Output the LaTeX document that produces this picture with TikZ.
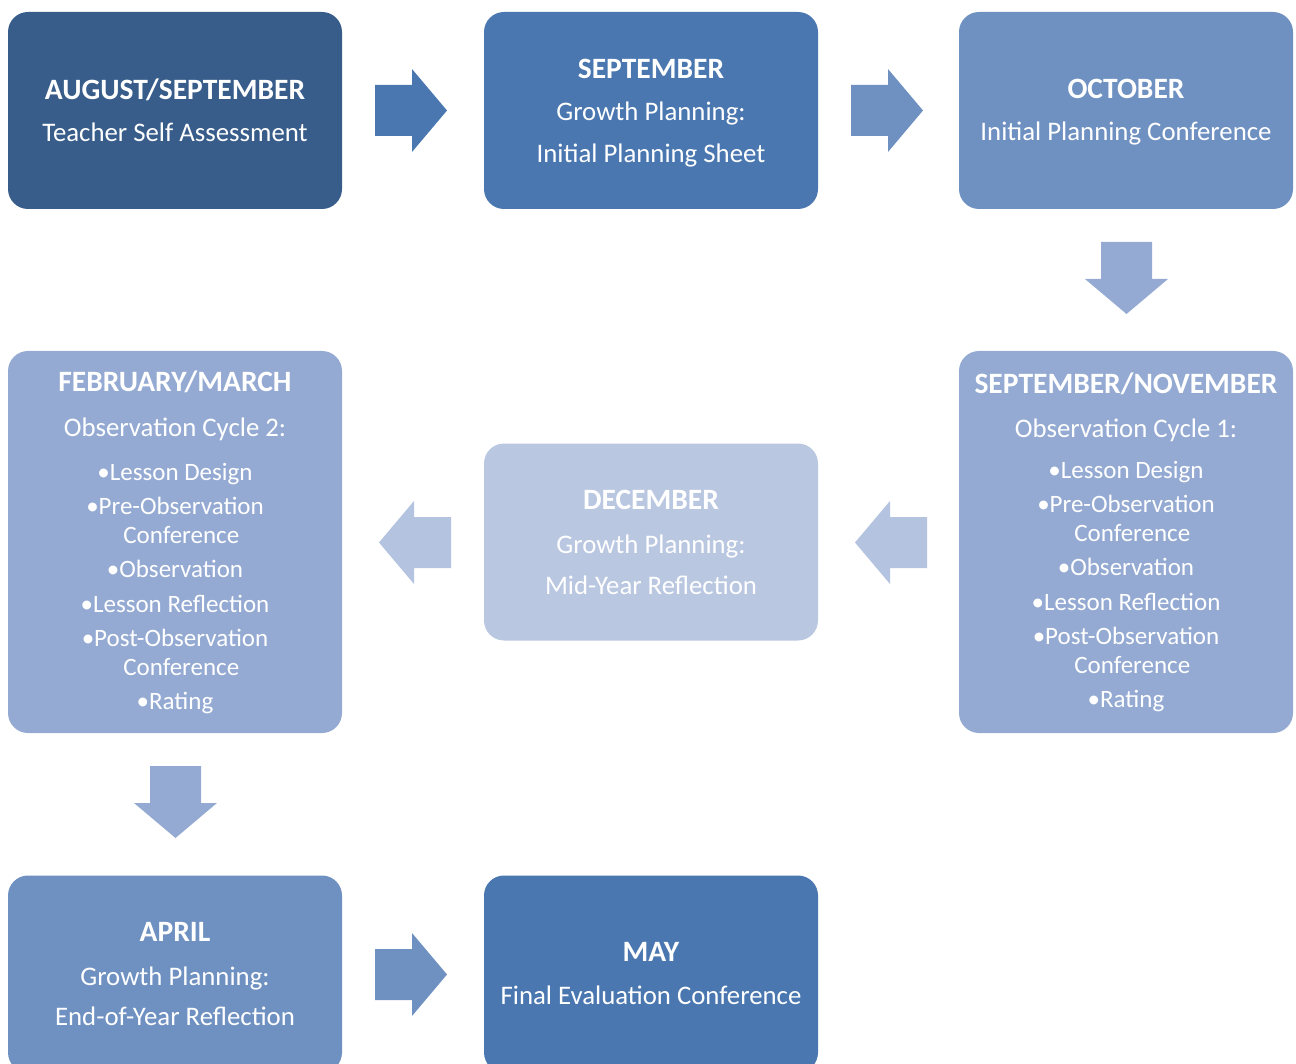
\documentclass[tikz,border=0pt]{standalone}
\usepackage{fontspec}
\setmainfont{Carlito}
\definecolor{cA}{HTML}{385D8A}
\definecolor{cB}{HTML}{4A77B0}
\definecolor{cC}{HTML}{6F91C2}
\definecolor{cD}{HTML}{94AAD2}
\definecolor{cE}{HTML}{B9C7E1}
\definecolor{cF}{HTML}{B4C3DF}
\newcommand{\boxtitle}[1]{{\fontsize{29.5}{29}\selectfont\bfseries #1}}
\newcommand{\bl}[1]{{\fontsize{25}{29}\selectfont #1}}
\begin{document}
\begin{tikzpicture}[x=1pt,y=-1pt,
  box/.style={rounded corners=20pt, inner sep=0pt, align=center, text=white,
    minimum width=334pt, minimum height=197pt, font=\fontsize{26.8}{29}\selectfont},
  tallbox/.style={box, minimum height=382pt},
  pics/blockarrow/.style={code={
    \fill[#1] (0,-25.5) -- (37,-25.5) -- (37,-41.5) -- (72,0) -- (37,41.5) -- (37,25.5) -- (0,25.5) -- cycle;}}
]
\useasboundingbox (0,0) rectangle (1296,1064);

\node[box, fill=cA] (b1) at (175,110.5) {\boxtitle{AUGUST/SEPTEMBER}\\[13pt]Teacher Self Assessment};
\node[box, fill=cB] (b2) at (651,110.5) {\rule{0pt}{25pt}\boxtitle{SEPTEMBER}\\[13pt]Growth Planning:\\[13pt]Initial Planning Sheet};
\node[box, fill=cC] (b3) at (1126,110.5) {\rule{0pt}{23pt}\boxtitle{OCTOBER}\\[13pt]Initial Planning Conference};

\node[tallbox, fill=cD] (b4) at (1126,542) {\boxtitle{SEPTEMBER/NOVEMBER}\\[15pt]
Observation Cycle 1:\\[12pt]
\bl{•Lesson Design}\\[5pt]
\bl{•Pre-Observation}\\
\bl{\phantom{•}Conference}\\[5pt]
\bl{•Observation}\\[6pt]
\bl{•Lesson Reflection}\\[5pt]
\bl{•Post-Observation}\\
\bl{\phantom{•}Conference}\\[5pt]
\bl{•Rating}};

\node[box, fill=cE] (b5) at (651,542) {\boxtitle{DECEMBER}\\[15pt]Growth Planning:\\[12pt]Mid-Year Reflection};

\node[tallbox, fill=cD] (b6) at (175,542) {\boxtitle{FEBRUARY/MARCH}\\[16pt]
Observation Cycle 2:\\[15pt]
\bl{•Lesson Design}\\[5pt]
\bl{•Pre-Observation}\\
\bl{\phantom{•}Conference}\\[5pt]
\bl{•Observation}\\[6pt]
\bl{•Lesson Reflection}\\[5pt]
\bl{•Post-Observation}\\
\bl{\phantom{•}Conference}\\[5pt]
\bl{•Rating}};

\node[box, fill=cC] (b7) at (175,974) {\boxtitle{APRIL}\\[15pt]Growth Planning:\\[11pt]End-of-Year Reflection};
\node[box, fill=cB] (b8) at (651,974) {\boxtitle{MAY}\\[14pt]Final Evaluation Conference};

\pic (a1) at (375,110.5) {blockarrow=cB};
\pic (a2) at (851,110.5) {blockarrow=cC};
\pic[rotate=-90] (a3) at (1126.5,242) {blockarrow=cD};
\pic[rotate=180] (a4) at (927,542.5) {blockarrow=cF};
\pic[rotate=180] (a5) at (451,542.5) {blockarrow=cF};
\pic[rotate=-90] (a6) at (175.5,766) {blockarrow=cD};
\pic (a7) at (375,974.5) {blockarrow=cC};
\end{tikzpicture}
\end{document}
